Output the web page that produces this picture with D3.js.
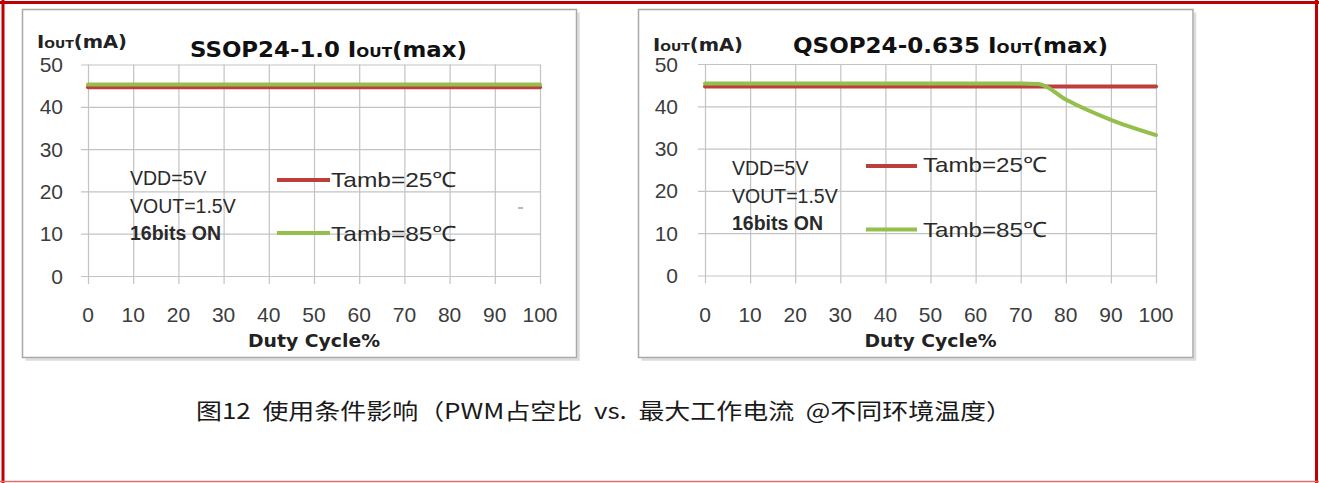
<!DOCTYPE html>
<html><head><meta charset="utf-8">
<script src="https://cdn.jsdelivr.net/npm/d3@7"></script>
<style>html,body{margin:0;padding:0;background:#fff;}svg{display:block;}</style>
</head><body>
<script>
// ---- data ----
const dutyCycle = [0,10,20,30,40,50,60,70,80,90,100];
const yTicks = [0,10,20,30,40,50];
const ssop25 = [44.6,44.6,44.6,44.6,44.6,44.6,44.6,44.6,44.6,44.6,44.6];
const ssop85 = [45.3,45.3,45.3,45.3,45.3,45.3,45.3,45.3,45.3,45.3,45.3];
const qsop25 = [44.7,44.7,44.7,44.7,44.7,44.7,44.7,44.7,44.7,44.7,44.7];
const qsop85x = [0,10,20,30,40,50,60,70,74,80,90,100];
const qsop85 = [45.4,45.4,45.4,45.4,45.4,45.4,45.4,45.4,45.3,41.6,36.8,33.2];
const titles = ["SSOP24-1.0 ", "QSOP24-0.635 "];
const notes = ["VDD=5V","VOUT=1.5V","16bits ON"];
const legendLabels = ["Tamb=25℃","Tamb=85℃"];
const caption = "图12  使用条件影响（PWM占空比  vs.  最大工作电流  @不同环境温度）";

const RED = "#bd3f3c", GREEN = "#94bf4d";
const W = 1319, H = 483;
const svg = d3.select("body").append("svg").attr("width", W).attr("height", H);
svg.append("rect").attr("width", W).attr("height", H).attr("fill", "#fff");

// outer red frame
svg.append("line").attr("x1",0).attr("x2",W).attr("y1",2.5).attr("y2",2.5).attr("stroke","#c00000").attr("stroke-width",3);
svg.append("line").attr("x1",3).attr("x2",3).attr("y1",0).attr("y2",H).attr("stroke","#c00000").attr("stroke-width",3);
svg.append("line").attr("x1",1316.5).attr("x2",1316.5).attr("y1",0).attr("y2",H).attr("stroke","#c00000").attr("stroke-width",3);
svg.append("line").attr("x1",0).attr("x2",W).attr("y1",481.5).attr("y2",481.5).attr("stroke","#e07070").attr("stroke-width",1.5);

const panels = [
  {box:[22.5,9.5,576.5,357.5], xr:[88,540], yr:[276,64.5], title:titles[0], titleX:190, titleW:277, titleY:57,
   ylab:[37,47.5], yTickX:63, series:[{x:dutyCycle,y:ssop25,c:RED},{x:dutyCycle,y:ssop85,c:GREEN}],
   notesX:130, notesY:[185,213,240], legX:[277,330], legY:[180,233], legTextX:331, legTextY:[187,241], legW:126, xlabY:347},
  {box:[638.5,9.5,1193,357.5], xr:[705,1156], yr:[275.5,64], title:titles[1], titleX:793, titleW:315, titleY:52.5,
   ylab:[653,51], yTickX:678, series:[{x:dutyCycle,y:qsop25,c:RED},{x:qsop85x,y:qsop85,c:GREEN}],
   notesX:732, notesY:[175,203,230], legX:[866,917], legY:[166,229.5], legTextX:923, legTextY:[172,237], legW:124, xlabY:347}
];

panels.forEach((p, pi) => {
  const g = svg.append("g");
  const [bx0,by0,bx1,by1] = p.box;
  g.append("path").attr("d",`M${bx1+2},${by0+3}V${by1+2}H${bx0+3}`).attr("fill","none").attr("stroke","#dcdcdc").attr("stroke-width",2.5);
  g.append("rect").attr("x",bx0).attr("y",by0).attr("width",bx1-bx0).attr("height",by1-by0)
    .attr("fill","#fff").attr("stroke","#a9a9a9").attr("stroke-width",1.5);

  const x = d3.scaleLinear().domain([0,100]).range(p.xr);
  const y = d3.scaleLinear().domain([0,50]).range(p.yr);

  const gy = g.append("g").attr("transform",`translate(${p.xr[0]},0)`)
    .call(d3.axisLeft(y).tickValues(yTicks).tickSize(-(p.xr[1]-p.xr[0])).tickSizeOuter(0).tickFormat(""));
  gy.select(".domain").remove();
  gy.selectAll(".tick line").attr("x1",-7).attr("stroke","#c3c3c3").attr("stroke-width",1.2);

  const gx = g.append("g").attr("transform",`translate(0,${p.yr[0]})`)
    .call(d3.axisBottom(x).tickValues(dutyCycle).tickSize(-(p.yr[0]-p.yr[1])).tickSizeOuter(0).tickFormat(""));
  gx.select(".domain").remove();
  gx.selectAll(".tick line").attr("y1",8).attr("stroke","#c3c3c3").attr("stroke-width",1.2);

  g.selectAll(".ylab").data(yTicks).enter().append("text")
    .attr("x",p.yTickX).attr("y",d=>y(d)+7.5).attr("text-anchor","end")
    .attr("font-family","Liberation Sans, Arial, sans-serif").attr("font-size",21).attr("fill","#3c3c3c").text(d=>d);
  g.selectAll(".xlab").data(dutyCycle).enter().append("text")
    .attr("x",d=>x(d)).attr("y",321.5).attr("text-anchor","middle")
    .attr("font-family","Liberation Sans, Arial, sans-serif").attr("font-size",21).attr("fill","#3c3c3c").text(d=>d);

  g.append("text").attr("x",(p.xr[0]+p.xr[1])/2).attr("y",p.xlabY).attr("text-anchor","middle")
    .attr("font-family","DejaVu Sans, sans-serif").attr("font-weight","bold").attr("font-size",17.5)
    .attr("fill","#222").attr("textLength",132).attr("lengthAdjust","spacingAndGlyphs").text("Duty Cycle%");

  const yl = g.append("text").attr("x",p.ylab[0]).attr("y",p.ylab[1])
    .attr("font-family","DejaVu Sans, sans-serif").attr("font-weight","bold").attr("font-size",17).attr("fill","#222")
    .attr("textLength",90).attr("lengthAdjust","spacingAndGlyphs");
  yl.append("tspan").text("I");
  yl.append("tspan").attr("font-size",11).text("OUT");
  yl.append("tspan").text("(mA)");

  const tt = g.append("text").attr("x",p.titleX).attr("y",p.titleY)
    .attr("font-family","DejaVu Sans, sans-serif").attr("font-weight","bold").attr("font-size",21).attr("fill","#111")
    .attr("textLength",p.titleW).attr("lengthAdjust","spacingAndGlyphs");
  tt.append("tspan").text(p.title + "I");
  tt.append("tspan").attr("font-size",14).text("OUT");
  tt.append("tspan").text("(max)");

  const line = d3.line().x(d=>x(d[0])).y(d=>y(d[1])).curve(d3.curveMonotoneX);
  p.series.forEach(s => {
    g.append("path").datum(s.x.map((v,i)=>[v,s.y[i]])).attr("d",line)
      .attr("fill","none").attr("stroke",s.c).attr("stroke-width",4).attr("stroke-linecap","round");
  });

  notes.forEach((t,i) => {
    g.append("text").attr("x",p.notesX).attr("y",p.notesY[i])
      .attr("font-family","Liberation Sans, Arial, sans-serif").attr("font-size",19.5).attr("fill","#2a2a2a")
      .attr("font-weight", i===2 ? "bold" : "normal").text(t);
  });

  [RED, GREEN].forEach((c,i) => {
    g.append("line").attr("x1",p.legX[0]).attr("x2",p.legX[1]).attr("y1",p.legY[i]).attr("y2",p.legY[i])
      .attr("stroke",c).attr("stroke-width",4);
    g.append("text").attr("x",p.legTextX).attr("y",p.legTextY[i])
      .attr("font-family","Liberation Sans, Arial, sans-serif").attr("font-size",21).attr("fill","#2a2a2a")
      .attr("textLength",p.legW).attr("lengthAdjust","spacingAndGlyphs").text(legendLabels[i]);
  });

  if (pi === 0) {
    g.append("line").attr("x1",518).attr("x2",523).attr("y1",208).attr("y2",208).attr("stroke","#888").attr("stroke-width",1.2);
  }
});

svg.append("text").attr("x",196).attr("y",419)
  .attr("font-family","Noto Sans CJK SC, sans-serif").attr("font-size",22).attr("fill","#1a1a1a")
  .style("white-space","pre")
  .attr("textLength",816).attr("lengthAdjust","spacingAndGlyphs").text(caption);
</script>
</body></html>
